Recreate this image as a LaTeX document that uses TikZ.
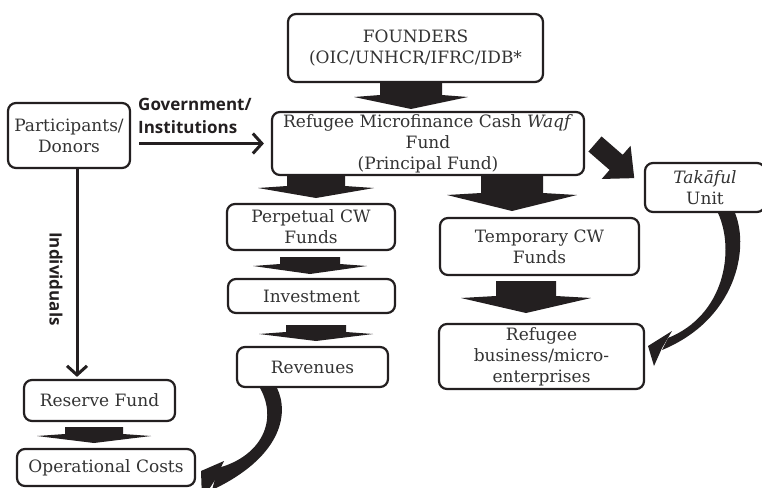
\documentclass[tikz,border=0pt]{standalone}
\usepackage{fontspec}
\setmainfont{DejaVu Serif}
\newfontfamily\lblfont{Open Sans}
\usetikzlibrary{arrows.meta}
\definecolor{ink}{HTML}{231F20}
\definecolor{txt}{HTML}{333333}
\tikzset{
  box/.style={draw=ink, line width=2.2pt, rounded corners=8pt, inner sep=0pt,
    align=center, text=txt, font=\fontsize{17}{21}\selectfont},
  blk/.style={fill=ink},
  conn/.style={draw=ink, line width=3pt, -{Straight Barb[length=9pt,width=20pt]}},
  lbl/.style={font=\lblfont\bfseries\fontsize{17}{23}\selectfont, text=ink,
    inner sep=0pt, align=left}
}
\newcommand\blkdown[6]{%
  \fill[blk] ({#1-#5},#2) -- ({#1-#5},#3) -- ({#1-#6},{#3+2}) -- (#1,#4)
    -- ({#1+#6},{#3+2}) -- ({#1+#5},#3) -- ({#1+#5},#2) -- cycle;}
\begin{document}
\begin{tikzpicture}[x=1pt,y=-1pt]
\clip (0,0) rectangle (762,487);
\fill[white] (0,0) rectangle (762,487);

% boxes
\node[box, minimum width=255, minimum height=68] (fnd) at (415.5,48)
  {FOUNDERS\\(OIC/UNHCR/IFRC/IDB*};
\node[box, minimum width=122, minimum height=65] (part) at (69,135.5)
  {Participants/\\Donors};
\node[box, minimum width=312, minimum height=63] (prin) at (428,143.5)
  {Refugee Microfinance Cash \textit{Waqf}\\Fund\\(Principal Fund)};
\node[box, minimum width=120, minimum height=49] (tak) at (705,187.5)
  {\textit{Takāful}\\Unit};
\node[box, minimum width=168, minimum height=46] (perp) at (311,227)
  {Perpetual CW\\Funds};
\node[box, minimum width=199, minimum height=57] (temp) at (539.5,246.5)
  {Temporary CW\\Funds};
\node[box, minimum width=167, minimum height=34] (inv) at (311.5,296)
  {Investment};
\node[box, minimum width=151, minimum height=40] (rev) at (312.5,367)
  {Revenues};
\node[box, minimum width=151, minimum height=41] (res) at (99.5,400.5)
  {Reserve Fund};
\node[box, minimum width=178, minimum height=37] (op) at (106,467.5)
  {Operational Costs};
\node[box, minimum width=205, minimum height=65] (rb) at (541.5,356.5)
  {Refugee\\business/micro-\\enterprises};

% labels
\node[lbl, anchor=west] (gov) at (138,116) {Government/\\Institutions};
\node[lbl, rotate=-90] (ind) at (56,279) {Individuals};

% line connectors
\draw[conn] ([xshift=8pt]part.east |- prin.west) -- ([xshift=-7pt]prin.west);
\draw[conn, shorten >=2pt] ([xshift=8pt]part.south) -- ([xshift=8pt]part.south |- res.north);

% block arrows
\blkdown{411}{82}{95}{109}{31}{57}
\blkdown{316}{176}{186}{198}{29}{58}
\blkdown{512}{176}{193}{211}{31}{65}
\blkdown{310}{257}{264}{274}{30}{57}
\blkdown{316}{325}{332}{341}{30}{57}
\blkdown{526}{281}{296}{313}{30}{65}
\blkdown{94}{427}{434}{443}{29}{57}

\begin{scope}[shift={(595,144)}, rotate=-41]
  \fill[blk] (0,-10) -- (28,-10) -- (28,-22) -- (52,0) -- (28,22) -- (28,10) -- (0,10) -- cycle;
\end{scope}

% curved arrows
\fill[blk] (718,213) -- (735,213) .. controls (750,250) and (735,320) .. (662,350)
  -- (668,338) .. controls (725,315) and (735,250) .. (718,213) -- cycle;
\fill[blk] (672,331) -- (648,346) -- (654,366) -- (662,348) -- cycle;

\fill[blk] (260,388) -- (277,388) .. controls (290,415) and (280,458) .. (212,490)
  -- (218,468) .. controls (262,456) and (278,420) .. (260,388) -- cycle;
\fill[blk] (224,461) -- (201,471) -- (202,500) -- (215,480) -- cycle;
\end{tikzpicture}
\end{document}
